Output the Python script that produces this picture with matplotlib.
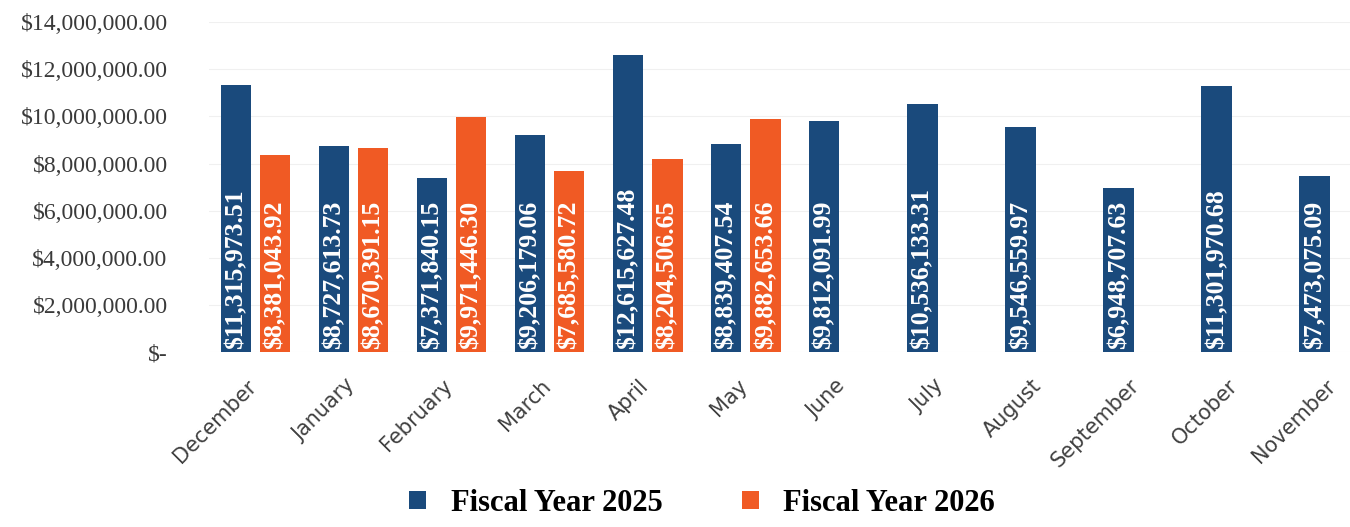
import numpy as np
import matplotlib.pyplot as plt
from matplotlib.ticker import FuncFormatter
from matplotlib.transforms import ScaledTranslation

months = ["December", "January", "February", "March", "April", "May",
          "June", "July", "August", "September", "October", "November"]
fy2025 = [11315973.51, 8727613.73, 7371840.15, 9206179.06, 12615627.48, 8839407.54,
          9812091.99, 10536133.31, 9546559.97, 6948707.63, 11301970.68, 7473075.09]
fy2026 = [8381043.92, 8670391.15, 9971446.30, 7685580.72, 8204506.65, 9882653.66]

blue = "#1a4a7c"
orange = "#f05a24"
serif = ["Liberation Serif", "DejaVu Serif"]

fig = plt.figure(figsize=(13.5, 5.27), dpi=100)
ax = fig.add_axes([0.155, 0.332, 0.845, 0.626])

x = np.arange(len(months))
w = 0.31
b1 = ax.bar(x - 0.2, fy2025, w, color=blue, label="Fiscal Year 2025")
b2 = ax.bar(x[:len(fy2026)] + 0.2, fy2026, w, color=orange, label="Fiscal Year 2026")

for bars in (b1, b2):
    for r in bars:
        v = r.get_height()
        ax.text(r.get_x() + r.get_width() / 2, 150000, f"${v:,.2f}",
                rotation=90, ha="center", va="bottom", color="white",
                fontsize=18.5, fontweight="bold", family=serif)

ax.set_ylim(0, 14000000)
ax.set_xlim(-0.47, 11.16)
ax.set_yticks(np.arange(0, 14000001, 2000000))
ax.yaxis.set_major_formatter(FuncFormatter(lambda v, p: "$-" if v == 0 else f"${v:,.2f}"))
for lab in ax.get_yticklabels():
    lab.set_family(serif)
ax.tick_params(axis="y", length=0, labelsize=17, labelcolor="#3a3a3a", pad=30)
ax.set_xticks(x)
ax.set_xticklabels(months, rotation=45, ha="right", rotation_mode="anchor",
                   fontsize=15, color="#404040")
ax.tick_params(axis="x", length=0, pad=17)
shift = ScaledTranslation(-9 / 100, 0, fig.dpi_scale_trans)
for lab in ax.get_xticklabels():
    lab.set_transform(lab.get_transform() + shift)
ax.grid(axis="y", color="#f0f0f0", linewidth=0.8)
ax.set_axisbelow(True)
for s in ax.spines.values():
    s.set_visible(False)

fig.legend(loc="lower center", bbox_to_anchor=(0.52, -0.035), ncol=2, frameon=False,
           prop={"family": serif, "weight": "bold", "size": 22},
           handlelength=0.55, handleheight=0.55, columnspacing=2.6, handletextpad=0.8)

fig.savefig("out.png", dpi=100)
